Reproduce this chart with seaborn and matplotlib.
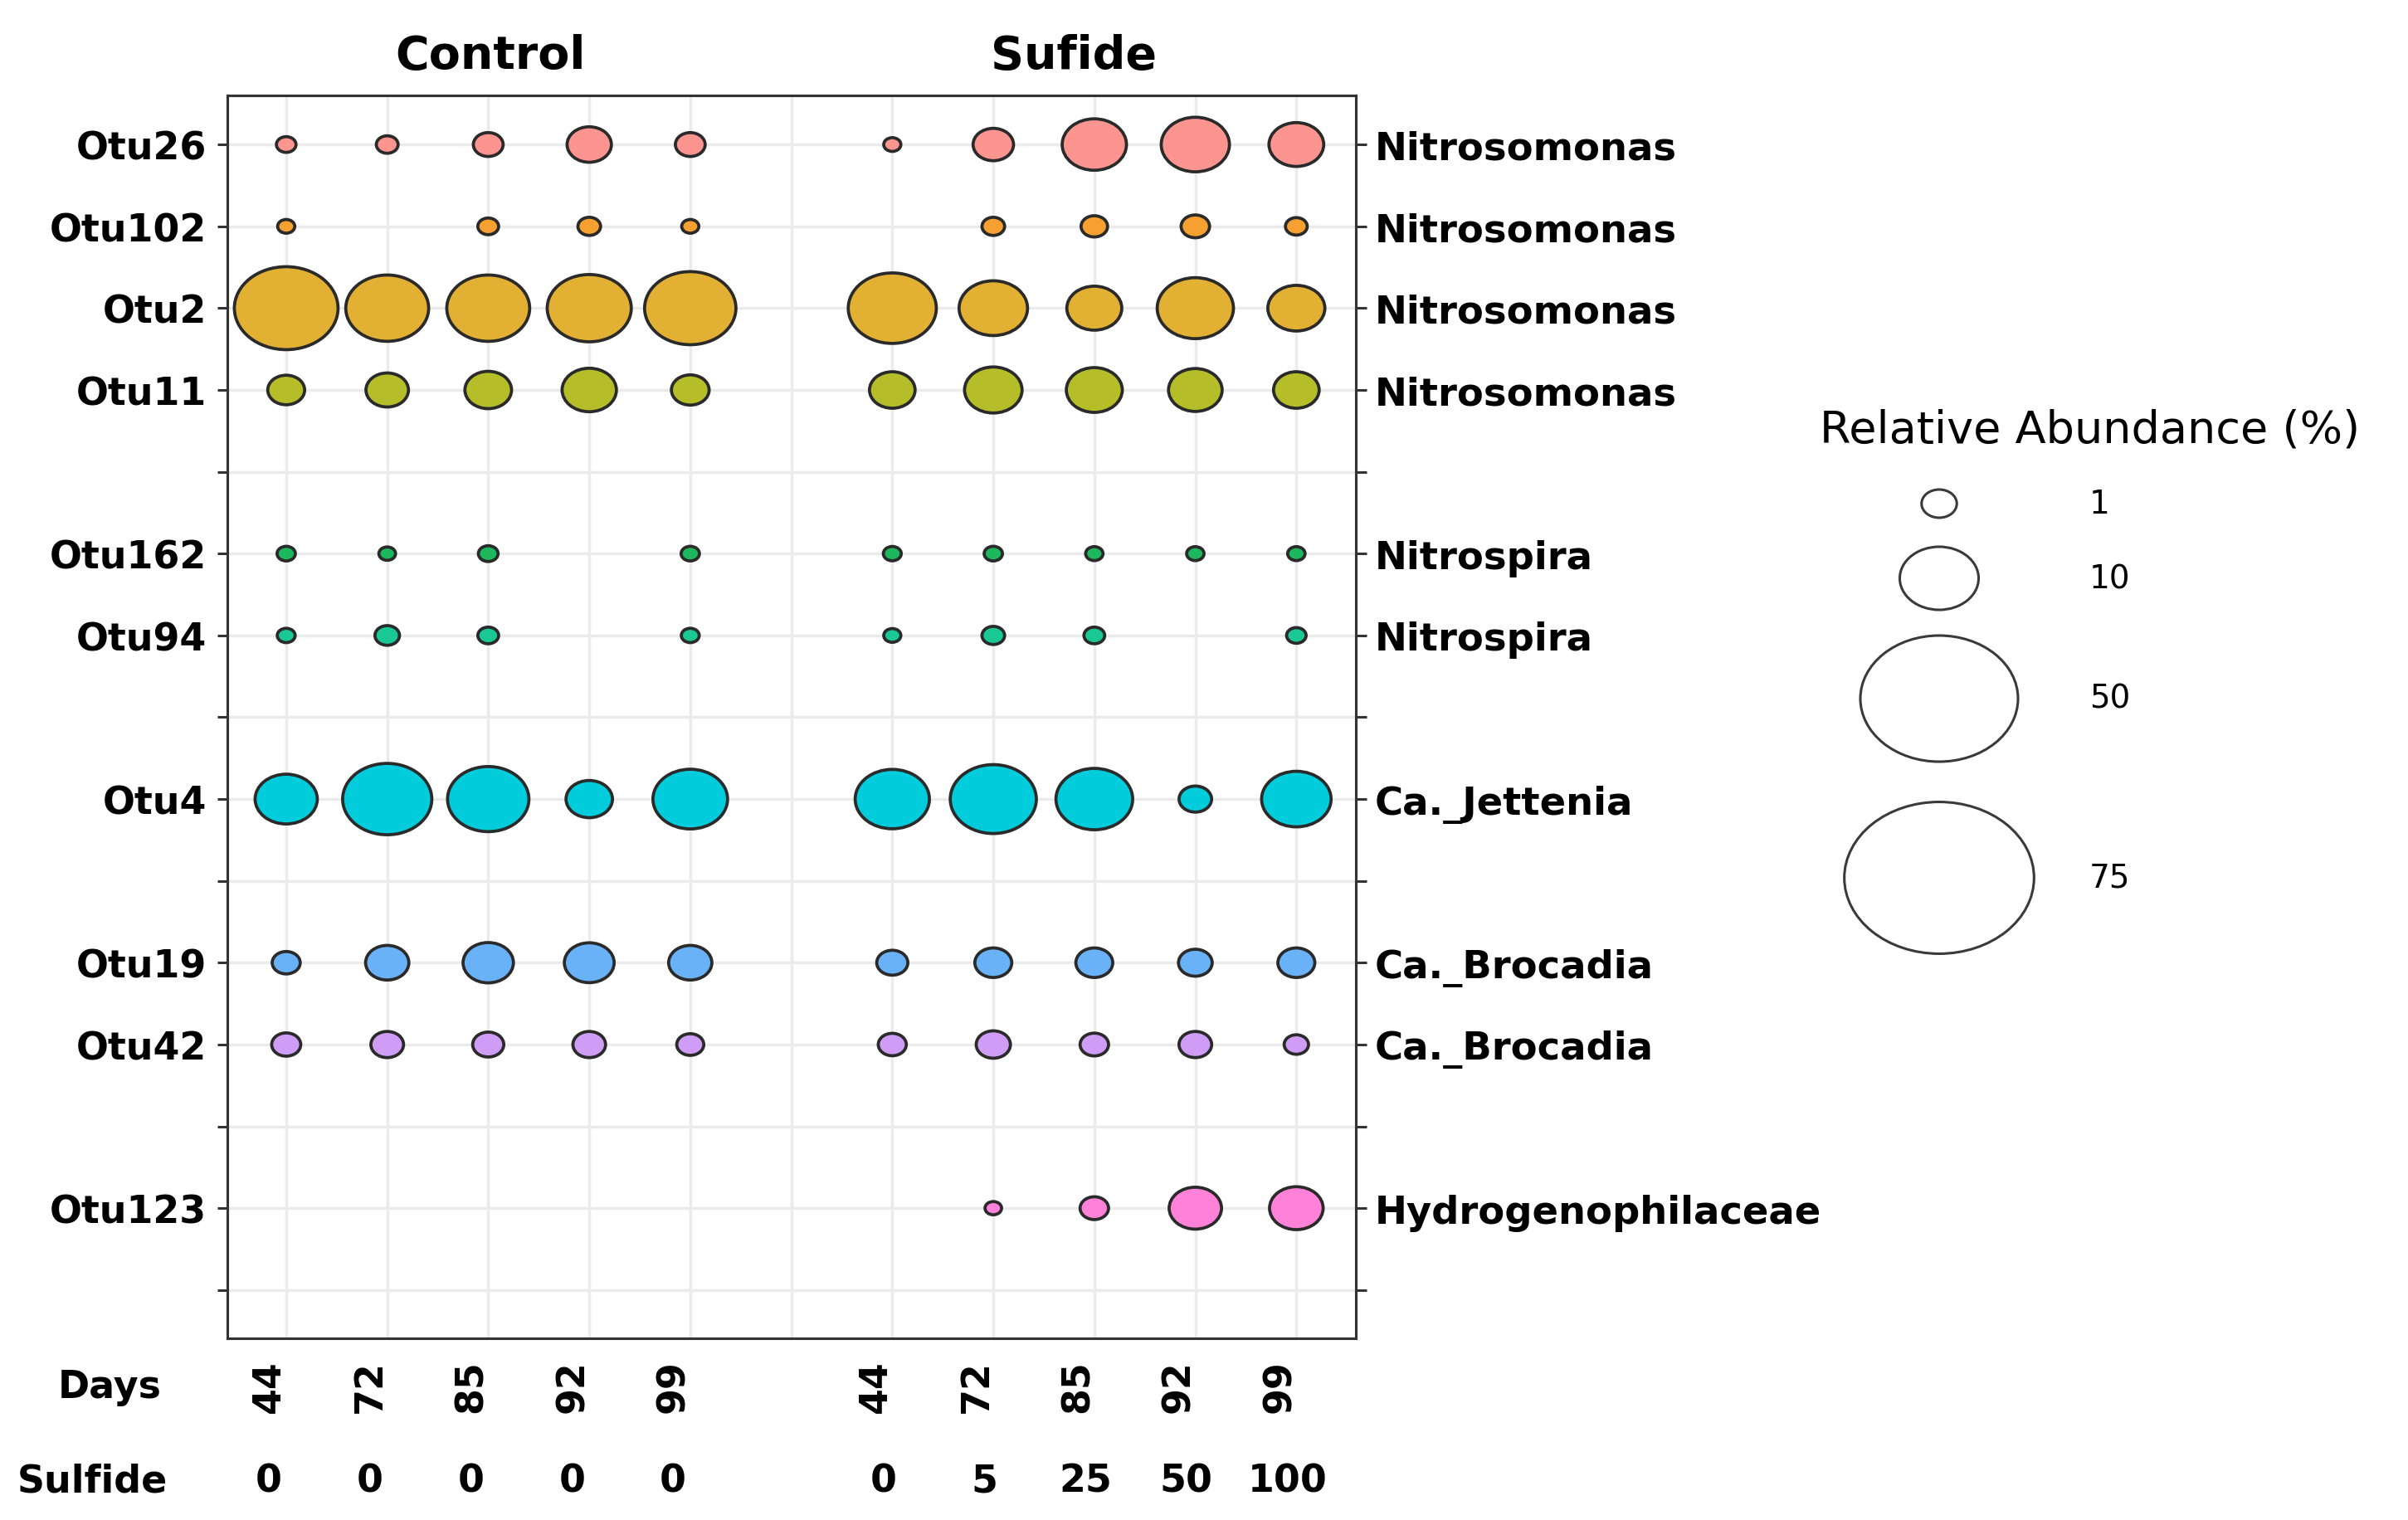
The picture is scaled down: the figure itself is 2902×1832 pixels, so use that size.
import numpy as np
import pandas as pd
import matplotlib
matplotlib.use("Agg")
import matplotlib.pyplot as plt
import matplotlib.colors as mcolors
import matplotlib.transforms as mtransforms
from matplotlib.path import Path
import seaborn as sns

nan = np.nan

# plot rows, top to bottom (blank = spacer row between genera)
row_otus = ["Otu26", "Otu102", "Otu2", "Otu11", "", "Otu162", "Otu94", "",
            "Otu4", "", "Otu19", "Otu42", "", "Otu123", ""]
row_genera = ["Nitrosomonas", "Nitrosomonas", "Nitrosomonas", "Nitrosomonas", "",
              "Nitrospira", "Nitrospira", "", "Ca._Jettenia", "",
              "Ca._Brocadia", "Ca._Brocadia", "", "Hydrogenophilaceae", ""]

otus = ["Otu26", "Otu102", "Otu2", "Otu11", "Otu162", "Otu94",
        "Otu4", "Otu19", "Otu42", "Otu123"]
otu_colors = ["#FC9590", "#F5A030", "#E2B032", "#B5BD28", "#1DB85E",
              "#19C894", "#00CCDC", "#6AB2F8", "#CF9DF6", "#FF82D8"]

days = [44, 72, 85, 92, 99]
sulfide_control = [0, 0, 0, 0, 0]
sulfide_treat = [0, 5, 25, 50, 100]

# relative abundance (%), one row per OTU, one value per sampling day
control_abund = [
    [0.05, 0.11, 0.53, 2.1, 0.53],      # Otu26
    [0.01, nan, 0.08, 0.14, 0.01],      # Otu102
    [19.3, 11.3, 11.3, 11.7, 14.3],     # Otu2
    [1.17, 1.85, 2.45, 3.79, 1.26],     # Otu11
    [0.025, 0.006, 0.052, nan, 0.025],  # Otu162
    [0.019, 0.22, 0.079, nan, 0.019],   # Otu94
    [5.46, 13.5, 10.8, 2.42, 8.72],     # Otu4
    [0.41, 1.95, 3.06, 2.96, 1.95],     # Otu19
    [0.48, 0.76, 0.63, 0.76, 0.35],     # Otu42
    [nan, nan, nan, nan, nan],          # Otu123
]
sulfide_abund = [
    [0.01, 1.58, 5.95, 6.94, 3.87],     # Otu26
    [nan, 0.14, 0.32, 0.44, 0.11],      # Otu102
    [13.1, 7.0, 3.91, 9.19, 4.33],      # Otu2
    [2.29, 4.43, 4.11, 3.65, 2.29],     # Otu11
    [0.019, 0.025, 0.013, 0.013, 0.013],  # Otu162
    [0.01, 0.14, 0.079, nan, 0.048],    # Otu94
    [8.6, 12.4, 9.34, 0.75, 7.27],      # Otu4
    [0.63, 1.17, 1.17, 0.85, 1.17],     # Otu19
    [0.41, 0.9, 0.44, 0.76, 0.21],      # Otu42
    [nan, 0.005, 0.44, 3.42, 3.65],     # Otu123
]
legend_breaks = [1, 10, 50, 75]

# long table for seaborn
records = []
for i, otu in enumerate(otus):
    for j, day in enumerate(days):
        records.append({"otu": otu, "group": "Control", "day": day,
                        "col": j, "abund": control_abund[i][j]})
        records.append({"otu": otu, "group": "Sufide", "day": day,
                        "col": j + len(days) + 1, "abund": sulfide_abund[i][j]})
df = pd.DataFrame(records).dropna()
df["row"] = df["otu"].map(row_otus.index)

xlabels = [str(d) for d in days] + [""] + [str(d) for d in days]

# bubble size: diameter grows with sqrt(abundance)
def fwd(v):
    return (0.748 + np.sqrt(v)) ** 2

def inv(a):
    return (np.sqrt(a) - 0.748) ** 2

size_norm = mcolors.FuncNorm((fwd, inv), vmin=0, vmax=75)
size_range = (172, 27100)

# slightly wide ellipse marker (the original figure is stretched sideways)
circ = Path.unit_circle()
bubble = Path(circ.vertices * [1.25, 1.0], circ.codes)

sns.set_style("white")
plt.rcParams["font.family"] = ["DejaVu Sans"]
plt.rcParams["text.color"] = "black"
plt.rcParams["xtick.labelcolor"] = "black"
plt.rcParams["ytick.labelcolor"] = "black"

fig = plt.figure(figsize=(29.02, 18.33), dpi=100)
ax = fig.add_axes([0.0944, 0.1195, 0.4687, 0.8172])

sns.scatterplot(data=df, x="col", y="row", hue="otu", hue_order=otus,
                palette=dict(zip(otus, otu_colors)), size="abund",
                sizes=size_range, size_norm=size_norm, marker=bubble,
                edgecolor="#2a2a2a", linewidth=2.7, alpha=1, legend=False,
                ax=ax, zorder=3)

ax.set_xlim(-0.583, 10.59)
ax.set_ylim(14.59, -0.60)
ax.set_xlabel("")
ax.set_ylabel("")
ax.set_xticks(range(len(xlabels)))
ax.set_xticklabels(xlabels, rotation=90, fontsize=33, fontweight="bold",
                   color="black")
ax.set_yticks(range(len(row_otus)))
ax.set_yticklabels(row_otus, fontsize=33, fontweight="bold", color="black")
ax.tick_params(axis="x", length=9, width=2.2, color="#333333", pad=9)
ax.tick_params(axis="y", length=9, width=2.2, color="#333333", pad=9)
ax.grid(True, color="#EBEBEB", linewidth=2.5)
ax.set_axisbelow(True)
for sp in ax.spines.values():
    sp.set_color("#333333")
    sp.set_linewidth(2.2)

ax2 = ax.twinx()
ax2.set_ylim(ax.get_ylim())
ax2.set_yticks(range(len(row_genera)))
ax2.set_yticklabels(row_genera, fontsize=33.5, fontweight="bold", color="black")
ax2.tick_params(axis="y", length=9, width=2.2, color="#333333", pad=7)
for sp in ax2.spines.values():
    sp.set_color("#333333")
    sp.set_linewidth(2.2)

# panel titles and the sulfide row under the day labels
tr = mtransforms.blended_transform_factory(ax.transData, fig.transFigure)
ax.text(2.02, 1 - 83 / 1833, "Control", transform=tr, ha="center",
        va="baseline", fontsize=40, fontweight="bold", color="black")
ax.text(7.80, 1 - 83 / 1833, "Sufide", transform=tr, ha="center",
        va="baseline", fontsize=40, fontweight="bold", color="black")
for j, s in enumerate(sulfide_control):
    ax.text(j - 0.17, 1 - 1786 / 1833, str(s), transform=tr, ha="center",
            va="center", fontsize=33, fontweight="bold", color="black")
for j, s in enumerate(sulfide_treat):
    ax.text(j + len(days) + 1 - 0.09, 1 - 1786 / 1833, str(s), transform=tr,
            ha="center", va="center", fontsize=33, fontweight="bold",
            color="black")
fig.text(132 / 2902, 1 - 1673 / 1833, "Days", ha="center", va="center",
         fontsize=33, fontweight="bold", color="black")
fig.text(111 / 2902, 1 - 1786 / 1833, "Sulfide", ha="center", va="center",
         fontsize=33, fontweight="bold", color="black")

# size legend
lax = fig.add_axes([0, 0, 1, 1], facecolor="none")
lax.set_xlim(0, 2902)
lax.set_ylim(1833, 0)
lax.axis("off")
leg_y = [608, 698, 843, 1059]
leg_s = size_range[0] + size_norm(np.array(legend_breaks, float)) * (size_range[1] - size_range[0])
lax.scatter([2337] * len(legend_breaks), leg_y, s=leg_s, marker=bubble,
            facecolor="white", edgecolor="#3a3a3a", linewidth=2.2)
for b, yy in zip(legend_breaks, leg_y):
    lax.text(2518, yy, str(b), ha="left", va="center", fontsize=28,
             color="black")
lax.text(2193, 518, "Relative Abundance (%)", ha="left", va="center",
         fontsize=39, color="black")

# rotated day labels sit a little left of their ticks
offset = mtransforms.ScaledTranslation(-0.2, 0, fig.dpi_scale_trans)
for lab in ax.get_xticklabels():
    lab.set_transform(lab.get_transform() + offset)

fig.savefig("out.png", dpi=100)
